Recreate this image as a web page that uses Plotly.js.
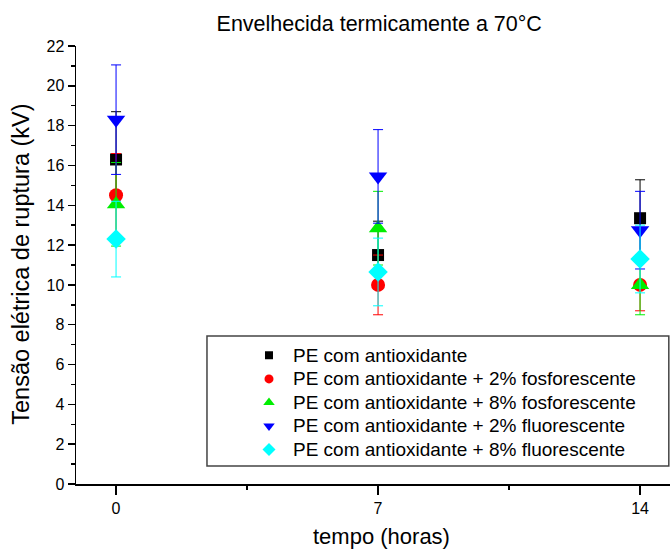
<!DOCTYPE html>
<html>
<head>
<meta charset="utf-8">
<script src="https://cdn.plot.ly/plotly-3.0.1.min.js"></script>
<style>html,body{margin:0;padding:0;background:#fff}#chart{width:670px;height:553px}</style>
</head>
<body>
<div id="chart"></div>
<script>
const tempo = [0, 7, 14];
const tickLabels = ['0', '7', '14'];
const seriesNames = [
  'PE com antioxidante',
  'PE com antioxidante + 2% fosforescente',
  'PE com antioxidante + 8% fosforescente',
  'PE com antioxidante + 2% fluorescente',
  'PE com antioxidante + 8% fluorescente'
];
const peAntiox = [16.3, 11.5, 13.35];
const peAntioxErr = [2.4, 1.7, 1.93];
const fosf2 = [14.5, 10.0, 10.0];
const fosf2Err = [2.1, 1.5, 1.3];
const fosf8 = [14.05, 12.85, 10.0];
const fosf8Err = [2.1, 1.85, 1.5];
const fluor2 = [18.3, 15.45, 12.75];
const fluor2Err = [2.75, 2.35, 1.95];
const fluor8 = [12.3, 10.65, 11.3];
const fluor8Err = [1.9, 1.7, 1.7];

const colors = ['#000000', '#ff0000', '#00ee00', '#0000ff', '#00ffff'];
const symbols = ['square', 'circle', 'triangle-up', 'triangle-down', 'diamond'];
const sizes = [12, 14, 16, 16, 15];
const legendSizes = [8, 9, 10, 10, 10];
const ys = [peAntiox, fosf2, fosf8, fluor2, fluor8];
const errs = [peAntioxErr, fosf2Err, fosf8Err, fluor2Err, fluor8Err];

const traces = ys.map((y, i) => ({
  type: 'scatter', mode: 'markers', x: tempo, y: y, name: seriesNames[i],
  showlegend: false,
  marker: {color: colors[i], symbol: symbols[i], size: sizes[i]},
  error_y: {type: 'data', array: errs[i], visible: true, color: colors[i], thickness: 1, width: 5}
}));
const legendTraces = seriesNames.map((n, i) => ({
  type: 'scatter', mode: 'markers', x: [null], y: [null],
  name: '<span style="font-size:19px">' + n + '</span>', showlegend: true,
  marker: {color: colors[i], symbol: symbols[i], size: legendSizes[i]}
}));

const font = {family: '"Liberation Sans", Arial, sans-serif', color: '#000'};
const layout = {
  width: 670, height: 553,
  margin: {l: 76, r: 0, t: 46, b: 69},
  paper_bgcolor: '#fff', plot_bgcolor: '#fff',
  font: Object.assign({size: 16}, font),
  title: {text: 'Envelhecida termicamente a 70°C', x: 0.566, xanchor: 'center', y: 0.958, yanchor: 'middle', font: Object.assign({size: 21.5}, font)},
  showlegend: true,
  legend: {x: 0.2845, xanchor: 'left', y: 0.332, yanchor: 'top', bgcolor: 'rgba(0,0,0,0)', borderwidth: 0,
    font: Object.assign({size: 15.8}, font), itemwidth: 38},
  xaxis: {range: [-1.07, 14.8], tickvals: tempo, ticktext: tickLabels, showgrid: false, zeroline: false,
    showline: true, linecolor: '#000', linewidth: 1.5, ticks: 'outside', ticklen: 9, tickwidth: 1.5, tickcolor: '#000',
    minor: {tickvals: [3.5, 10.5], ticks: 'outside', ticklen: 4, tickwidth: 1.5, tickcolor: '#000'},
    tickfont: Object.assign({size: 16}, font)},
  yaxis: {range: [0, 22], dtick: 2, showgrid: false, zeroline: false,
    showline: true, linecolor: '#000', linewidth: 1.5, ticks: 'outside', ticklen: 7, tickwidth: 1.5, tickcolor: '#000',
    minor: {dtick: 1, ticks: 'outside', ticklen: 4, tickwidth: 1.5, tickcolor: '#000'},
    tickfont: Object.assign({size: 16}, font)},
  annotations: [
    {text: 'tempo (horas)', xref: 'paper', yref: 'paper', x: 0.515, y: -0.121, xanchor: 'center', yanchor: 'middle',
      showarrow: false, font: Object.assign({size: 22}, font)},
    {text: 'Tensão elétrica de ruptura (kV)', xref: 'paper', yref: 'paper', x: -0.094, y: 0.501, xanchor: 'center', yanchor: 'middle',
      textangle: -90, showarrow: false, font: Object.assign({size: 23.5}, font)}
  ],
  shapes: [{type: 'rect', xref: 'paper', yref: 'paper', x0: 0.2205, x1: 0.998, y0: 0.041, y1: 0.338,
    line: {color: '#444', width: 1.5}, fillcolor: 'rgba(0,0,0,0)', layer: 'below'}]
};
Plotly.newPlot('chart', traces.concat(legendTraces), layout, {displayModeBar: false, staticPlot: true});
</script>
</body>
</html>
